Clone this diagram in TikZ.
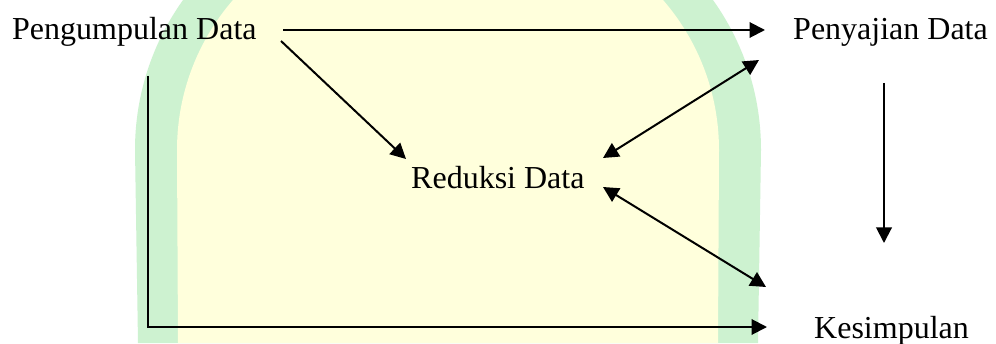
\documentclass[tikz,border=0pt]{standalone}
\usepackage{fontspec}
\setmainfont{Liberation Serif}
\usetikzlibrary{arrows.meta}
\definecolor{archgreen}{RGB}{205,242,208}
\definecolor{archyellow}{RGB}{255,255,220}
\tikzset{
  label text/.style={inner sep=0pt, anchor=base west, font=\fontsize{32}{38}\selectfont},
  headtip/.tip={Triangle[length=15.5pt,width=15.5pt]},
  flow/.style={line width=2pt, -headtip},
  twoway/.style={line width=2pt, headtip-headtip}
}
\begin{document}
\begin{tikzpicture}[x=1pt,y=1pt]
  \useasboundingbox (0,0) rectangle (996,343);
  \begin{scope}
    \clip (0,0) rectangle (996,343);
    \fill[white] (0,0) rectangle (996,343);
    % background arch: green band with a pale yellow interior
    \fill[archgreen] (138,0) -- (135,193) arc[start angle=180, end angle=90, radius=258]
      -- (503,451) arc[start angle=90, end angle=0, radius=258] -- (758,0) -- cycle;
    \fill[archyellow] (178,0) -- (177,193) arc[start angle=180, end angle=90, radius=229]
      -- (490,422) arc[start angle=90, end angle=0, radius=229] -- (718,0) -- cycle;
  \end{scope}

  % stages
  \node[label text] (peng)    at (12,303)  {Pengumpulan Data};
  \node[label text] (penyaj)  at (793,303) {Penyajian Data};
  \node[label text] (reduksi) at (411,154) {Reduksi Data};
  \node[label text] (kesimp)  at (814,5)   {Kesimpulan};

  % connector end points
  \coordinate (pengR)    at (283,313);
  \coordinate (penyajL)  at (765,313);
  \coordinate (pengD)    at (281,302);
  \coordinate (redNW)    at (406,184);
  \coordinate (redNE)    at (603,185);
  \coordinate (penyajSW) at (759,283);
  \coordinate (redSE)    at (603,156);
  \coordinate (kesNW)    at (766,56);
  \coordinate (penyajS)  at (884,260);
  \coordinate (kesN)     at (884,100);
  \coordinate (pengS)    at (148,267);
  \coordinate (kesW)     at (767,16);

  % connectors
  \draw[flow] (pengR) -- (penyajL);
  \draw[flow] (pengD) -- (redNW);
  \draw[twoway] (redNE) -- (penyajSW);
  \draw[twoway] (redSE) -- (kesNW);
  \draw[flow] (penyajS) -- (kesN);
  \draw[flow] (pengS) |- (kesW);
\end{tikzpicture}
\end{document}
